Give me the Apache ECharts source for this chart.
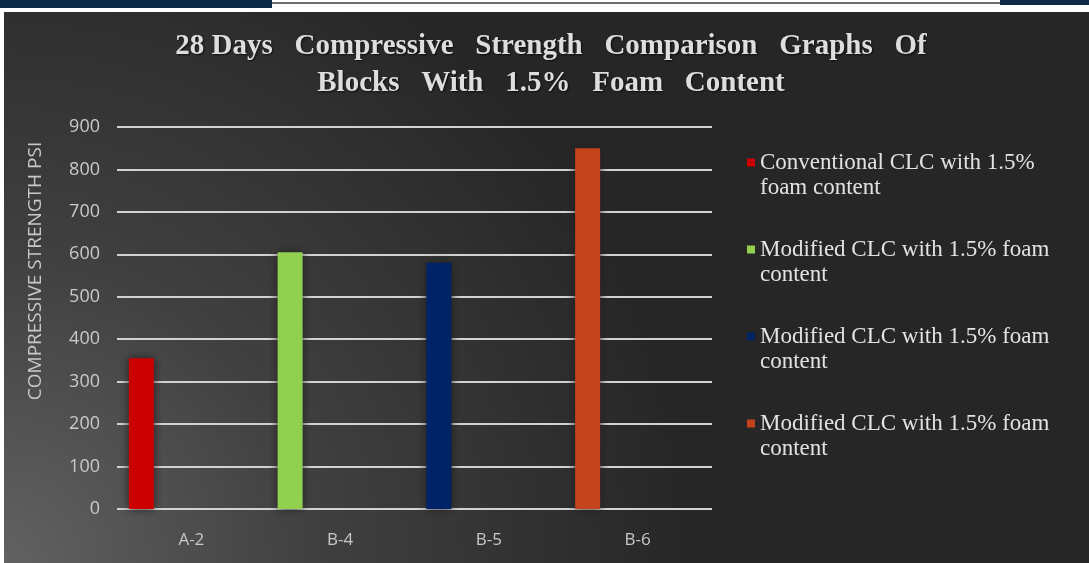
<!DOCTYPE html>
<html>
<head>
<meta charset="utf-8">
<script src="https://cdn.jsdelivr.net/npm/echarts@6/dist/echarts.min.js"></script>
<style>
  html, body { margin: 0; padding: 0; background: #ffffff; }
  #chart { width: 1089px; height: 563px; }
</style>
</head>
<body>
<div id="chart"></div>
<script>
// Block samples and their 28-day compressive strength (psi)
const categories = ['A-2', 'B-4', 'B-5', 'B-6'];
const strength = [355, 605, 580, 850];
const seriesLabels = [
  'Conventional CLC with 1.5%\nfoam content',
  'Modified CLC with 1.5% foam\ncontent',
  'Modified CLC with 1.5% foam\ncontent',
  'Modified CLC with 1.5% foam\ncontent'
];
const seriesColors = ['#cc0000', '#92d050', '#002266', '#c2431c'];
const yTicks = { min: 0, max: 900, step: 100 };

const chart = echarts.init(document.getElementById('chart'), null, { renderer: 'canvas' });

// one stacked series per block so every block gets its own legend entry
const blockSeries = categories.map((cat, i) => ({
  name: cat,
  type: 'bar',
  stack: 'blocks',
  barWidth: 25,
  barGap: '300%',
  data: categories.map((c, j) => (j === i ? strength[i] : '-')),
  itemStyle: {
    color: seriesColors[i],
    shadowBlur: 10,
    shadowColor: 'rgba(28,28,28,0.95)'
  },
  z: 3
}));

// empty companion column keeps the bars to the left half of each slot
const spacer = {
  name: 'spacer',
  type: 'bar',
  stack: 'spacer',
  barWidth: 25,
  barGap: '300%',
  data: categories.map(() => '-'),
  itemStyle: { color: 'rgba(0,0,0,0)' },
  silent: true
};

const option = {
  animation: false,
  backgroundColor: '#ffffff',
  graphic: [
    {
      type: 'rect',
      z: -10,
      shape: { x: 4, y: 12, width: 1085, height: 551 },
      style: {
        fill: {
          type: 'radial', x: 0, y: 1, r: 1.25,
          colorStops: [
            { offset: 0, color: '#626262' },
            { offset: 0.45, color: '#404040' },
            { offset: 1, color: '#262626' }
          ]
        }
      }
    },
    { type: 'rect', z: -9, shape: { x: 0, y: 0, width: 272, height: 8 }, style: { fill: '#0d2a48' } },
    { type: 'rect', z: -9, shape: { x: 272, y: 2, width: 728, height: 2 }, style: { fill: '#6e6e6e' } },
    { type: 'rect', z: -9, shape: { x: 1000, y: 0, width: 89, height: 5 }, style: { fill: '#0d2a48' } },
    {
      type: 'text',
      x: 36, y: 271,
      rotation: Math.PI / 2,
      style: {
        text: 'COMPRESSIVE STRENGTH PSI',
        fill: '#c8c8c8',
        font: '19px "Open Sans"',
        align: 'center',
        verticalAlign: 'middle'
      }
    }
  ],
  title: {
    text: '28 Days   Compressive   Strength   Comparison   Graphs   Of\nBlocks   With   1.5%   Foam   Content',
    left: 546,
    top: 23,
    textAlign: 'center',
    textStyle: {
      fontFamily: '"Liberation Serif"',
      fontWeight: 'bold',
      fontSize: 29,
      lineHeight: 37,
      color: '#dedede',
      textShadowColor: 'rgba(0,0,0,0.7)',
      textShadowBlur: 2,
      textShadowOffsetX: 1,
      textShadowOffsetY: 1
    }
  },
  legend: {
    orient: 'vertical',
    left: 742,
    top: 120,
    itemWidth: 8,
    itemHeight: 8,
    itemGap: 12,
    icon: 'rect',
    data: categories,
    // leading blank line lines the icon up with the first text line
    formatter: (name) => '\n' + seriesLabels[categories.indexOf(name)],
    textStyle: {
      fontFamily: '"Liberation Serif"',
      fontSize: 23,
      lineHeight: 25,
      color: '#e2e2e2'
    }
  },
  grid: { left: 117, right: 377, top: 127, bottom: 54 },
  xAxis: {
    type: 'category',
    data: categories,
    axisLine: { show: false },
    axisTick: { show: false },
    axisLabel: {
      color: '#c8c8c8',
      fontFamily: '"Open Sans"',
      fontSize: 17,
      margin: 23
    }
  },
  yAxis: {
    type: 'value',
    min: yTicks.min,
    max: yTicks.max,
    interval: yTicks.step,
    axisLine: { show: false },
    axisTick: { show: false },
    axisLabel: {
      color: '#cacaca',
      fontFamily: '"Open Sans"',
      fontSize: 18,
      margin: 17
    },
    splitLine: { lineStyle: { color: '#d2d2d2', width: 2 } }
  },
  series: blockSeries.concat([spacer])
};

chart.setOption(option);
</script>
</body>
</html>
